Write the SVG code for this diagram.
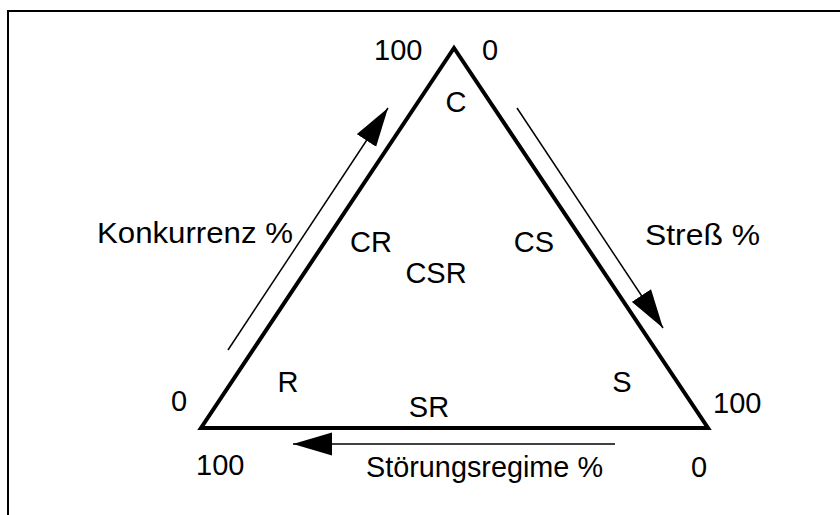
<svg xmlns="http://www.w3.org/2000/svg" width="840" height="515" viewBox="0 0 840 515">
  <style>
    .t { font-family: "Liberation Sans", Arial, sans-serif; font-size: 29px; fill: #000; }
    .m { text-anchor: middle; }
    .frame { fill: none; stroke: #000; stroke-width: 2; }
    .tri { fill: none; stroke: #000; stroke-width: 4; stroke-linejoin: miter; }
    .conn { fill: none; stroke: #000; stroke-width: 1.5; }
  </style>
  <defs>
    <marker id="ah" markerUnits="userSpaceOnUse" markerWidth="40" markerHeight="24" refX="39" refY="12" orient="auto" viewBox="0 0 40 24">
      <path d="M0,0.5 L39,12 L0,23.5 Z" fill="#000"/>
    </marker>
  </defs>
  <rect width="840" height="515" fill="#fff"/>
  <polyline class="frame" points="8,515 8,11 840,11"/>

  <g id="triangle">
    <polygon class="tri" points="454,48 708,428 201,428"/>
  </g>

  <g id="connectors">
    <line class="conn" x1="228" y1="350" x2="388" y2="108" marker-end="url(#ah)"/>
    <line class="conn" x1="517" y1="108" x2="663" y2="328" marker-end="url(#ah)"/>
    <line class="conn" x1="615" y1="444" x2="293" y2="444" marker-end="url(#ah)"/>
  </g>

  <g id="labels">
    <text class="t" x="374" y="60">100</text>
    <text class="t" x="482" y="60">0</text>
    <text class="t m" x="456" y="112">C</text>
    <text class="t" x="97" y="243" textLength="196" lengthAdjust="spacingAndGlyphs">Konkurrenz %</text>
    <text class="t m" x="371" y="252">CR</text>
    <text class="t m" x="534" y="252">CS</text>
    <text class="t m" x="436" y="283">CSR</text>
    <text class="t" x="645" y="245" textLength="115" lengthAdjust="spacingAndGlyphs">Streß %</text>
    <text class="t m" x="288" y="392">R</text>
    <text class="t m" x="622" y="392">S</text>
    <text class="t m" x="429" y="417">SR</text>
    <text class="t" x="171" y="411">0</text>
    <text class="t" x="713" y="413">100</text>
    <text class="t" x="196" y="475">100</text>
    <text class="t" x="691" y="477">0</text>
    <text class="t" x="366" y="477" textLength="237" lengthAdjust="spacingAndGlyphs">Störungsregime %</text>
  </g>
</svg>
